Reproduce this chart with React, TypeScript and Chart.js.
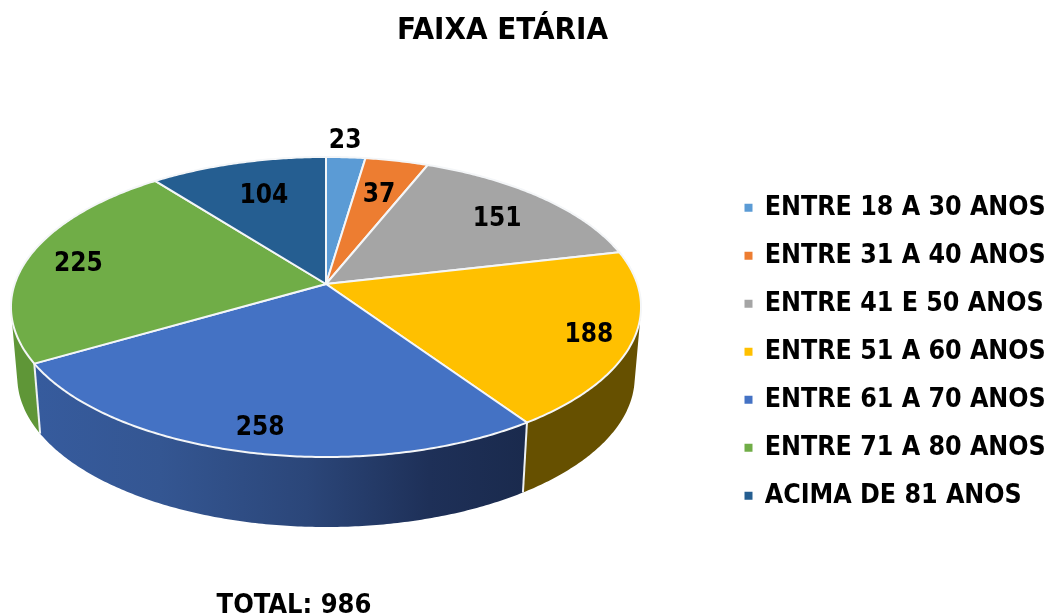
import React, { useEffect, useRef } from "react";
import { Chart, registerables } from "chart.js";

Chart.register(...registerables);

const categories = [
  "ENTRE 18 A 30 ANOS",
  "ENTRE 31 A 40 ANOS",
  "ENTRE 41 E 50 ANOS",
  "ENTRE 51 A 60 ANOS",
  "ENTRE 61 A 70 ANOS",
  "ENTRE 71 A 80 ANOS",
  "ACIMA DE 81 ANOS",
];
const values = [23, 37, 151, 188, 258, 225, 104];
const colors = ["#5b9bd5", "#ed7d31", "#a5a5a5", "#ffc000", "#4472c4", "#70ad47", "#255e91"];
const wallColors = ["#3e6c96", "#a65721", "#737373", "#665000", "#2f4f88", "#5f9637", "#1a4266"];
const labelRadii = [1.14, 0.72, 0.77, 0.86, 0.86, 0.83, 0.72];
const labelNudgeX = [-3, 0, 2, 1, 2, 0, 4];
const titleText = "FAIXA ETÁRIA";
const totalText = "TOTAL: 986";

const FONT = '"DejaVu Sans Condensed", "DejaVu Sans", sans-serif';
const CX = 326, CY = 284, A = 311.3, B = 146.5, K = -0.1533, DEPTH = 70, WALL_SX = 0.98;

const project = (angle: number, r = 1) => {
  const u = Math.cos(angle) * r;
  const v = Math.sin(angle) * r;
  const d = 1 + K * v;
  return { x: (A * u) / d, y: (B * v) / d };
};
const top3d = (angle: number, r = 1) => {
  const p = project(angle, r);
  return { x: CX + p.x, y: CY + p.y };
};
const bottom3d = (angle: number) => {
  const p = project(angle, 1);
  return { x: CX + p.x * WALL_SX, y: CY + DEPTH + p.y };
};

const pie3d = {
  id: "pie3d",
  afterLayout(chart: any) {
    const place = (box: any, cx: number, top: number) => {
      const w = box.right - box.left;
      const h = box.bottom - box.top;
      box.left = cx - w / 2;
      box.right = cx + w / 2;
      box.top = top;
      box.bottom = top + h;
    };
    for (const box of chart.boxes) {
      if (box === chart.titleBlock) place(box, 502.5, 2);
      else if (box.position === "bottom" && box.options?.text) place(box, 294, 590);
      else if (box === chart.legend) {
        box.left = 724;
        box.top = 173;
      }
    }
  },
  beforeDatasetDraw(chart: any) {
    const ctx = chart.ctx as CanvasRenderingContext2D;
    const arcs = chart.getDatasetMeta(0).data as any[];
    const sample = (s: number, e: number) => {
      const n = Math.max(2, Math.ceil((e - s) / 0.01));
      return Array.from({ length: n + 1 }, (_, i) => s + ((e - s) * i) / n);
    };
    ctx.save();
    const grad = ctx.createLinearGradient(38, 0, 527, 0);
    grad.addColorStop(0, "#365b9d");
    grad.addColorStop(0.25, "#345692");
    grad.addColorStop(0.55, "#2b4679");
    grad.addColorStop(0.8, "#1e3058");
    grad.addColorStop(1, "#1a2a4d");
    arcs.forEach((arc, i) => {
      const s = Math.max(arc.startAngle, 0);
      const e = Math.min(arc.endAngle, Math.PI);
      if (e <= s) return;
      const ang = sample(s, e);
      ctx.beginPath();
      for (let j = 0; j < ang.length - 1; j++) {
        const quad = [top3d(ang[j]), top3d(ang[j + 1]), bottom3d(ang[j + 1]), bottom3d(ang[j])];
        let area = 0;
        quad.forEach((p, k) => {
          const q = quad[(k + 1) % 4];
          area += p.x * q.y - q.x * p.y;
        });
        if (area < 0) quad.reverse();
        quad.forEach((p, k) => (k === 0 ? ctx.moveTo(p.x, p.y) : ctx.lineTo(p.x, p.y)));
        ctx.closePath();
      }
      ctx.fillStyle = i === 4 ? grad : wallColors[i];
      ctx.fill();
    });
    ctx.strokeStyle = "#eef1f4";
    ctx.lineWidth = 2;
    arcs.forEach((arc) => {
      const t = arc.endAngle;
      if (Math.sin(t) > 0 && t < Math.PI * 1.5) {
        const p = top3d(t);
        const q = bottom3d(t);
        ctx.beginPath();
        ctx.moveTo(p.x, p.y);
        ctx.lineTo(q.x, q.y);
        ctx.stroke();
      }
    });
    arcs.forEach((arc, i) => {
      const ang = sample(arc.startAngle, arc.endAngle);
      ctx.beginPath();
      ctx.moveTo(CX, CY);
      ang.forEach((t) => {
        const p = top3d(t);
        ctx.lineTo(p.x, p.y);
      });
      ctx.closePath();
      ctx.fillStyle = colors[i];
      ctx.fill();
      ctx.strokeStyle = "#f4f6f8";
      ctx.lineWidth = 2;
      ctx.lineJoin = "round";
      ctx.stroke();
    });
    ctx.fillStyle = "#000";
    ctx.font = `bold 26px ${FONT}`;
    ctx.textAlign = "center";
    ctx.textBaseline = "middle";
    arcs.forEach((arc, i) => {
      const p = top3d((arc.startAngle + arc.endAngle) / 2, labelRadii[i]);
      ctx.fillText(String(values[i]), p.x + labelNudgeX[i], p.y + (i === 0 ? -1 : 3));
    });
    ctx.restore();
    return false;
  },
};

export default function App() {
  const ref = useRef<HTMLCanvasElement>(null);
  useEffect(() => {
    const chart = new Chart(ref.current!, {
      type: "pie",
      data: {
        labels: categories,
        datasets: [{ data: values, backgroundColor: colors, borderColor: "#fff", borderWidth: 2 }],
      },
      options: {
        responsive: false,
        animation: false,
        plugins: {
          title: {
            display: true,
            text: titleText,
            color: "#000",
            font: { family: FONT, size: 31, weight: "bold" },
          },
          subtitle: {
            display: true,
            position: "bottom",
            text: totalText,
            color: "#000",
            font: { family: FONT, size: 27, weight: "bold" },
          },
          legend: {
            position: "right",
            align: "start",
            labels: {
              usePointStyle: true,
              pointStyle: "rect",
              boxWidth: 6,
              boxHeight: 10,
              padding: 21.5,
              color: "#000",
              font: { family: FONT, size: 26.5, weight: "bold" },
            },
          },
          tooltip: { enabled: false },
        },
      },
      plugins: [pie3d],
    } as any);
    return () => chart.destroy();
  }, []);
  return (
    <div style={{ position: "absolute", left: 0, top: 0, width: 1050, height: 616, background: "#fff", overflow: "hidden" }}>
      <canvas ref={ref} width={1050} height={616} style={{ display: "block" }} />
    </div>
  );
}
